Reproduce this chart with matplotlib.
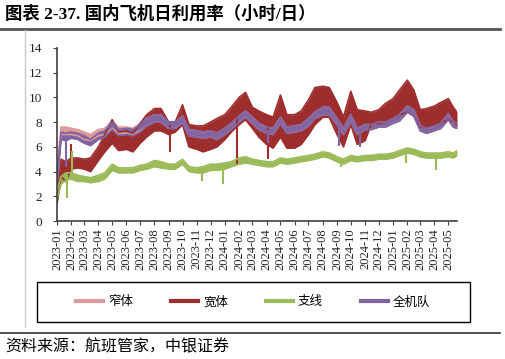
import pandas as pd
import matplotlib
matplotlib.use('Agg')
import matplotlib.pyplot as plt
import matplotlib.dates as mdates
from matplotlib.lines import Line2D
from matplotlib.patches import Rectangle

dates = ['2023-01-01', '2023-01-10', '2023-01-20', '2023-02-01', '2023-02-15', '2023-03-01', '2023-03-15',
         '2023-04-01', '2023-04-15', '2023-05-01', '2023-05-15', '2023-06-01', '2023-06-15', '2023-07-01',
         '2023-07-15', '2023-08-01', '2023-08-15', '2023-09-01', '2023-09-15', '2023-10-01', '2023-10-15',
         '2023-11-01', '2023-11-15', '2023-12-01', '2023-12-15',
         '2024-01-01', '2024-01-15', '2024-02-01', '2024-02-15', '2024-03-01', '2024-03-15', '2024-04-01',
         '2024-04-15', '2024-05-01', '2024-05-15', '2024-06-01', '2024-06-15', '2024-07-01', '2024-07-15',
         '2024-08-01', '2024-08-15', '2024-09-01', '2024-09-15', '2024-10-01', '2024-10-15', '2024-11-01',
         '2024-11-15', '2024-12-01', '2024-12-15',
         '2025-01-01', '2025-01-15', '2025-02-01', '2025-02-15', '2025-03-01', '2025-03-15', '2025-04-01',
         '2025-04-15', '2025-05-01', '2025-05-12', '2025-05-20']

narrow_lo = [3.8, 7.0, 7.0, 7.0, 6.9, 6.6, 6.5, 6.9, 7.0, 7.5, 7.1, 7.1, 7.0, 7.3,
             7.7, 8.0, 8.0, 7.5, 7.5, 7.9, 6.9, 6.8, 6.7, 6.8, 6.6,
             7.0, 7.4, 8.0, 8.4, 7.9, 7.4, 7.1, 7.0, 7.9, 7.1, 7.2, 7.3, 7.7, 8.3,
             8.6, 8.6, 7.8, 7.0, 8.0, 7.0, 7.4, 7.4, 7.6, 7.6,
             7.9, 8.1, 8.8, 8.5, 7.3, 7.1, 7.3, 7.5, 8.2, 7.6, 7.5]
narrow_hi = [4.4, 7.6, 7.6, 7.5, 7.4, 7.2, 7.0, 7.4, 7.5, 8.1, 7.6, 7.6, 7.5, 7.9,
             8.3, 8.6, 8.6, 8.0, 8.0, 8.5, 7.4, 7.3, 7.2, 7.3, 7.1,
             7.5, 7.9, 8.5, 8.9, 8.4, 7.9, 7.6, 7.5, 8.4, 7.6, 7.7, 7.8, 8.3, 8.8,
             9.2, 9.2, 8.3, 7.5, 8.6, 7.5, 7.8, 7.8, 8.0, 8.0,
             8.3, 8.6, 9.3, 9.0, 7.7, 7.5, 7.7, 7.9, 8.7, 8.0, 7.9]

wide_lo = [1.4, 3.6, 3.2, 4.2, 4.3, 4.2, 4.0, 4.9, 5.6, 6.3, 5.7, 5.8, 5.6, 6.3,
           6.8, 7.3, 7.3, 7.0, 7.2, 7.8, 6.0, 5.8, 5.6, 5.8, 6.0,
           6.6, 7.2, 7.8, 8.2, 7.5, 6.8, 6.2, 5.9, 6.8, 5.9, 5.9, 6.2, 7.0, 7.8,
           8.4, 8.4, 7.0, 6.0, 7.8, 6.2, 6.5, 7.9, 7.9, 8.0,
           8.3, 8.6, 8.8, 8.5, 7.6, 7.6, 7.7, 7.9, 8.2, 8.0, 7.8]
wide_hi = [2.0, 5.0, 4.8, 5.1, 5.1, 5.0, 5.1, 6.0, 7.0, 8.2, 7.2, 7.3, 7.1, 7.9,
           8.6, 9.1, 9.1, 8.0, 8.0, 9.4, 7.8, 7.7, 7.7, 8.0, 8.3,
           8.6, 9.2, 10.0, 10.4, 9.2, 8.9, 8.6, 8.4, 10.2, 8.6, 8.6, 8.9, 9.8, 10.8,
           10.9, 10.8, 9.6, 8.4, 10.5, 9.0, 8.9, 8.8, 9.0, 9.5,
           9.9, 10.6, 11.4, 10.6, 9.0, 9.1, 9.3, 9.6, 9.9, 9.2, 8.8]

regional_lo = [1.8, 3.0, 3.3, 3.4, 3.2, 3.2, 3.1, 3.2, 3.4, 4.1, 3.9, 3.9, 3.9, 4.1,
               4.2, 4.4, 4.3, 4.2, 4.2, 4.6, 4.0, 3.9, 3.9, 4.1, 4.1,
               4.2, 4.4, 4.6, 4.7, 4.6, 4.5, 4.4, 4.4, 4.7, 4.6, 4.7, 4.8, 4.9, 5.0,
               5.2, 5.1, 4.8, 4.6, 4.9, 4.8, 4.9, 4.9, 5.0, 5.0,
               5.1, 5.3, 5.5, 5.4, 5.2, 5.1, 5.1, 5.1, 5.2, 5.1, 5.3]
regional_hi = [2.4, 3.6, 3.9, 3.9, 3.7, 3.6, 3.5, 3.7, 3.9, 4.6, 4.3, 4.3, 4.3, 4.5,
               4.6, 4.9, 4.8, 4.6, 4.6, 5.0, 4.4, 4.3, 4.4, 4.6, 4.6,
               4.7, 4.8, 5.1, 5.2, 5.0, 4.9, 4.8, 4.8, 5.1, 5.0, 5.1, 5.2, 5.3, 5.4,
               5.6, 5.5, 5.2, 5.0, 5.3, 5.2, 5.3, 5.3, 5.4, 5.4,
               5.5, 5.7, 5.9, 5.8, 5.6, 5.5, 5.5, 5.5, 5.6, 5.5, 5.7]

fleet_lo = [3.0, 6.6, 6.5, 6.7, 6.6, 6.3, 6.1, 6.6, 6.8, 7.4, 6.9, 7.0, 6.9, 7.2,
            7.7, 8.0, 8.0, 7.5, 7.5, 7.9, 6.9, 6.8, 6.7, 6.8, 6.6,
            7.0, 7.4, 8.0, 8.4, 7.9, 7.4, 7.1, 7.0, 7.9, 7.1, 7.2, 7.3, 7.7, 8.3,
            8.6, 8.6, 7.8, 7.0, 8.0, 7.0, 7.4, 7.4, 7.6, 7.6,
            7.9, 8.1, 8.8, 8.5, 7.3, 7.1, 7.3, 7.5, 8.2, 7.6, 7.5]
fleet_hi = [3.6, 7.2, 7.1, 7.2, 7.1, 6.9, 6.6, 7.1, 7.3, 8.0, 7.4, 7.5, 7.4, 7.8,
            8.3, 8.6, 8.6, 8.0, 8.0, 8.5, 7.4, 7.3, 7.2, 7.3, 7.1,
            7.5, 7.9, 8.5, 8.9, 8.4, 7.9, 7.6, 7.5, 8.4, 7.6, 7.7, 7.8, 8.3, 8.8,
            9.2, 9.2, 8.3, 7.5, 8.6, 7.5, 7.8, 7.8, 8.0, 8.0,
            8.3, 8.6, 9.3, 9.0, 7.7, 7.5, 7.7, 7.9, 8.7, 8.0, 7.9]

# single-day spikes: date, bottom, top
wide_spike_dates = ['2023-01-31', '2023-09-04', '2024-01-28', '2024-04-04']
wide_spike_lo = [4.0, 5.6, 4.6, 5.0]
wide_spike_hi = [6.2, 7.8, 9.5, 8.4]
regional_spike_dates = ['2023-01-22', '2023-02-02', '2023-11-12', '2023-12-28',
                        '2024-09-10', '2025-01-28', '2025-04-04']
regional_spike_lo = [1.9, 3.5, 3.2, 3.0, 4.4, 4.7, 4.1]
regional_spike_hi = [3.7, 5.7, 4.2, 4.4, 5.0, 5.6, 5.4]
fleet_spike_dates = ['2023-01-21', '2024-04-05', '2024-09-05', '2024-10-20']
fleet_spike_lo = [4.4, 6.3, 6.1, 6.0]
fleet_spike_hi = [7.0, 7.4, 8.0, 7.5]

labels = ['窄体', '宽体', '支线', '全机队']
colors = ['#DE9A98', '#9E2E2E', '#9BBB59', '#8064A2']

W, H = 505, 359
fig = plt.figure(figsize=(W / 100, H / 100), dpi=100)
ax = fig.add_axes([57 / W, 1 - 221 / H, 400 / W, 173 / H])

x = pd.to_datetime(dates)
series = [(narrow_lo, narrow_hi, [], [], []),
          (wide_lo, wide_hi, wide_spike_dates, wide_spike_lo, wide_spike_hi),
          (regional_lo, regional_hi, regional_spike_dates, regional_spike_lo, regional_spike_hi),
          (fleet_lo, fleet_hi, fleet_spike_dates, fleet_spike_lo, fleet_spike_hi)]
for (lo, hi, sd, slo, shi), c in zip(series, colors):
    ax.fill_between(x, lo, hi, color=c, lw=0)
    ax.plot(x, lo, color=c, lw=1.2)
    ax.plot(x, hi, color=c, lw=1.2)
    if sd:
        ax.vlines(pd.to_datetime(sd), slo, shi, color=c, lw=1.5)

ax.set_ylim(0, 14)
ax.set_yticks(range(0, 15, 2))
ax.set_xlim(pd.Timestamp('2023-01-01'), pd.Timestamp('2025-05-20'))
ax.xaxis.set_major_locator(mdates.MonthLocator())
ax.xaxis.set_major_formatter(mdates.DateFormatter('%Y-%m'))
for s in ['top', 'right']:
    ax.spines[s].set_visible(False)
for s in ['left', 'bottom']:
    ax.spines[s].set_color('#404040')
    ax.spines[s].set_linewidth(1.2)
ax.tick_params(axis='both', direction='out', length=3, width=0.8, color='#404040')
ax.tick_params(axis='y', pad=8)
ax.tick_params(axis='x', pad=2)
for t in ax.get_yticklabels():
    t.set_fontfamily('Liberation Serif')
    t.set_fontsize(9.5)
    t.set_color('#222222')
for t in ax.get_xticklabels():
    t.set_fontfamily('Liberation Serif')
    t.set_fontsize(9)
    t.set_rotation(90)
    t.set_color('#222222')

handles = [Line2D([], [], color=c, lw=3) for c in colors]
fig.legend(handles, labels, loc='center', bbox_to_anchor=(253 / W, 1 - 302 / H), ncol=4,
           frameon=False, handlelength=2.2, handletextpad=0.4, columnspacing=3.0,
           prop={'family': ['Noto Sans CJK SC'], 'size': 9})
fig.add_artist(Rectangle((37 / W, 1 - 322 / H), 433 / W, 40 / H, transform=fig.transFigure,
                         fill=False, edgecolor='black', lw=1))

fig.add_artist(Line2D([0, 500 / W], [1 - 29 / H] * 2, color='#555555', lw=2))
fig.add_artist(Line2D([0, 500 / W], [1 - 333 / H] * 2, color='#333333', lw=1.2))
fig.add_artist(Line2D([25 / W] * 2, [1 - 30 / H, 1 - 327 / H], color='#C8C8C8', lw=1))

fig.text(5 / W, 1 - 14 / H, '图表 2-37. 国内飞机日利用率（小时/日）', va='center', ha='left',
         fontsize=12.5, fontweight='bold', family=['Liberation Serif', 'Noto Sans CJK SC'])
fig.text(5 / W, 1 - 347 / H, '资料来源：航班管家，中银证券', va='center', ha='left',
         fontsize=11.5, style='italic', family=['Noto Sans CJK SC'])

fig.savefig('out.png', dpi=100)
